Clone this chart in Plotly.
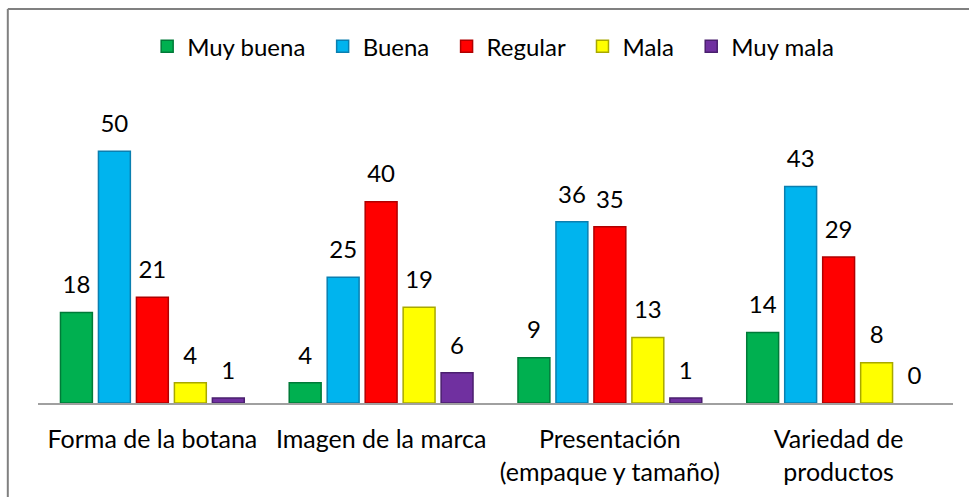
import plotly.graph_objs as go

categories = ['Forma de la botana', 'Imagen de la marca',
              'Presentación<br>(empaque y tamaño)', 'Variedad de<br>productos']
series_names = ['Muy buena', 'Buena', 'Regular', 'Mala', 'Muy mala']
muy_buena = [18, 4, 9, 14]
buena = [50, 25, 36, 43]
regular = [21, 40, 35, 29]
mala = [4, 19, 13, 8]
muy_mala = [1, 6, 1, 0]
series_values = [muy_buena, buena, regular, mala, muy_mala]

colorLookup = {
    'Muy buena': ('#00b050', '#007a38'),
    'Buena': ('#00b4ee', '#0a7fb0'),
    'Regular': ('#ff0000', '#b00000'),
    'Mala': ('#ffff00', '#a8a800'),
    'Muy mala': ('#7030a0', '#4a1f6e'),
}

FONT = 'Lato, Calibri, Carlito, sans-serif'

fig = go.Figure()
for name, vals in zip(series_names, series_values):
    fill, edge = colorLookup[name]
    fig.add_trace(
        go.Bar(
            x=categories, y=vals, name=name + '\u00a0\u00a0',
            text=vals, textposition='outside', cliponaxis=False,
            # small base font + invisible second line lifts the label off the bar
            texttemplate='<span style="font-size:24px">%{y}</span><br>'
                         '<span style="color:rgba(0,0,0,0)">.</span>',
            textfont=dict(size=11, color='#000000', family=FONT),
            marker=dict(color=fill,
                        line=dict(color=edge, width=[1.5 if v > 0 else 0 for v in vals]))
        )
    )

fig.update_xaxes(showline=True, linecolor='#a0a0a0', linewidth=2, ticks='',
                 tickfont=dict(size=25, color='#000000', family=FONT),
                 ticklabelstandoff=13, showgrid=False)
fig.update_yaxes(range=[0, 60], visible=False, showgrid=False, zeroline=False)

fig.update_layout(
    width=969, height=497,
    barmode='group', bargap=0.17, bargroupgap=0.16,
    paper_bgcolor='#ffffff', plot_bgcolor='#ffffff',
    margin={'l': 38, 'r': 16, 't': 101, 'b': 94},
    font=dict(family=FONT, color='#000000'),
    legend=dict(orientation='h', x=0.504, xanchor='center', y=1.18, yanchor='middle',
                font=dict(size=24, family=FONT), itemwidth=30, traceorder='normal'),
    shapes=[
        dict(type='line', xref='paper', yref='paper', x0=-0.033, x1=1.1,
             y0=1.305, y1=1.305, line=dict(color='#808080', width=2)),
        dict(type='line', xref='paper', yref='paper', x0=-0.033, x1=-0.033,
             y0=1.305, y1=-0.5, line=dict(color='#808080', width=2)),
    ],
)

fig.write_html('out.html', config={'displayModeBar': False},
               post_script="document.body.style.margin='0';")
